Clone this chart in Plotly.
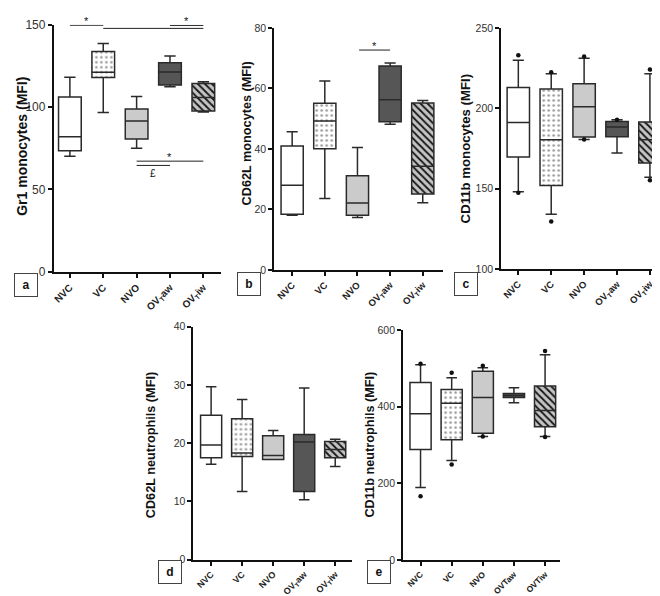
import plotly.graph_objects as go

categories = ["NVC", "VC", "NVO", "OVTaw", "OVTiw"]
labels_sub = ["<b>NVC</b>", "<b>VC</b>", "<b>NVO</b>", "<b>OV<sub>T</sub>aw</b>", "<b>OV<sub>T</sub>iw</b>"]
labels_plain = ["<b>NVC</b>", "<b>VC</b>", "<b>NVO</b>", "<b>OVTaw</b>", "<b>OVTiw</b>"]

# (a) Gr1 monocytes (MFI)
gr1_lo = [70.2, 96.8, 75.1, 112.3, 97.0]
gr1_q1 = [73.5, 118.0, 80.6, 113.4, 97.6]
gr1_med = [82.0, 121.1, 91.5, 121.3, 105.9]
gr1_q3 = [106.1, 133.8, 98.8, 126.9, 114.4]
gr1_hi = [118.2, 138.7, 106.5, 131.0, 115.4]

# (b) CD62L monocytes (MFI)
cd62m_lo = [18.1, 23.6, 17.3, 48.2, 22.2]
cd62m_q1 = [18.4, 40.1, 18.1, 49.0, 25.1]
cd62m_med = [28.0, 49.2, 22.1, 56.3, 34.3]
cd62m_q3 = [41.0, 55.1, 31.1, 67.4, 55.2]
cd62m_hi = [45.7, 62.5, 40.5, 68.4, 56.0]

# (c) CD11b monocytes (MFI)
cd11m_lo = [148.0, 134.0, 180.5, 172.1, 157.0]
cd11m_q1 = [169.7, 152.0, 182.2, 182.3, 165.9]
cd11m_med = [191.2, 180.4, 201.0, 188.4, 180.4]
cd11m_q3 = [212.9, 212.0, 215.3, 191.8, 191.4]
cd11m_hi = [229.9, 221.5, 231.1, 192.8, 221.5]
cd11m_out_x = ["NVC", "NVC", "VC", "VC", "NVO", "NVO", "OVTaw", "OVTiw", "OVTiw"]
cd11m_out_y = [233.1, 147.4, 222.5, 129.5, 232.3, 180.5, 192.8, 224.1, 155.2]

# (d) CD62L neutrophils (MFI)
cd62n_lo = [16.4, 11.7, 17.2, 10.3, 16.0]
cd62n_q1 = [17.5, 17.7, 17.2, 11.7, 17.5]
cd62n_med = [19.7, 18.3, 17.9, 20.2, 18.9]
cd62n_q3 = [24.8, 24.2, 21.3, 21.5, 20.3]
cd62n_hi = [29.7, 27.5, 22.2, 29.5, 20.7]

# (e) CD11b neutrophils (MFI)
cd11n_lo = [189.3, 260.0, 322.6, 410.9, 322.6]
cd11n_q1 = [288.6, 314.0, 331.0, 424.4, 348.0]
cd11n_med = [382.0, 409.0, 424.4, 429.5, 390.5]
cd11n_q3 = [463.5, 445.0, 493.0, 434.6, 454.0]
cd11n_hi = [510.0, 476.0, 501.7, 450.0, 535.7]
cd11n_out_x = ["NVC", "NVC", "VC", "VC", "NVO", "NVO", "OVTiw", "OVTiw"]
cd11n_out_y = [512.0, 167.0, 489.0, 249.6, 507.0, 322.6, 545.8, 321.0]

# significance comparisons: (from index, to index, y level, label)
sig_a = [(0, 1, 149.7, "*"), (1, 4, 147.8, ""), (3, 4, 149.6, "*"),
         (2, 4, 67.2, "*"), (2, 3, 64.6, "")]
sig_a_pound = (2.5, 64.6, "£")
sig_b = [(2.05, 3, 72.7, "*")]

fills = ["#ffffff", "#ffffff", "#cbcbcb", "#565656", "#c4c4c4"]
pat_shape = ["", ".", "", "", "\\"]
pat_fg = ["#000000", "#9a9a9a", "#000000", "#000000", "#151515"]
pat_size = [6, 5, 6, 6, 5]
pat_solid = [0.2, 0.2, 0.2, 0.2, 0.36]

FONT = "Liberation Sans, Arial, sans-serif"

panels = [
    dict(lo=gr1_lo, q1=gr1_q1, med=gr1_med, q3=gr1_q3, hi=gr1_hi, ox=[], oy=[],
         xdom=(44, 212), ydom=(10, 263), xr=[-0.48, 4.54], yr=[0, 150], dtick=50,
         title="Gr1 monocytes (MFI)", tpos=(12, 134), tsize=14, ksize=12, xsize=10,
         labels=labels_sub, tag="a", tagpos=(16, 277)),
    dict(lo=cd62m_lo, q1=cd62m_q1, med=cd62m_med, q3=cd62m_q3, hi=cd62m_hi, ox=[], oy=[],
         xdom=(265, 434), ydom=(13.3, 261), xr=[-0.55, 4.61], yr=[0, 80], dtick=20,
         title="CD62L monocytes (MFI)", tpos=(238, 121), tsize=12.7, ksize=10.5, xsize=9.5,
         labels=labels_sub, tag="b", tagpos=(240, 275)),
    dict(lo=cd11m_lo, q1=cd11m_q1, med=cd11m_med, q3=cd11m_q3, hi=cd11m_hi,
         ox=cd11m_out_x, oy=cd11m_out_y,
         xdom=(492.7, 657.7), ydom=(13.3, 260), xr=[-0.52, 4.48], yr=[100, 250], dtick=50,
         title="CD11b monocytes (MFI)", tpos=(457, 137), tsize=13.2, ksize=10.5, xsize=9.5,
         labels=labels_sub, tag="c", tagpos=(457, 275)),
    dict(lo=cd62n_lo, q1=cd62n_q1, med=cd62n_med, q3=cd62n_q3, hi=cd62n_hi, ox=[], oy=[],
         xdom=(184, 343), ydom=(319.3, 557.7), xr=[-0.57, 4.54], yr=[0, 40], dtick=10,
         title="CD62L neutrophils (MFI)", tpos=(141, 441), tsize=12.7, ksize=10.5, xsize=9,
         labels=labels_sub, tag="d", tagpos=(160, 570)),
    dict(lo=cd11n_lo, q1=cd11n_q1, med=cd11n_med, q3=cd11n_q3, hi=cd11n_hi,
         ox=cd11n_out_x, oy=cd11n_out_y,
         xdom=(394.3, 552), ydom=(322.7, 558.3), xr=[-0.56, 4.49], yr=[0, 600], dtick=200,
         title="CD11b neutrophils (MFI)", tpos=(361, 440), tsize=12.7, ksize=10.5, xsize=8.4,
         labels=labels_plain, tag="e", tagpos=(370, 570)),
]

W, H = 660, 596
fig = go.Figure()
layout = dict(width=W, height=H, margin=dict(l=0, r=0, t=0, b=0),
              paper_bgcolor="white", plot_bgcolor="white", showlegend=False,
              font=dict(family=FONT, color="#111"), annotations=[], shapes=[],
              barmode="overlay")

for i, p in enumerate(panels):
    n = "" if i == 0 else str(i + 1)
    xa, ya = "x" + n, "y" + n
    for k, cat in enumerate(categories):
        pat = dict(shape=pat_shape[k], fgcolor=pat_fg[k], bgcolor=fills[k],
                   size=pat_size[k], solidity=pat_solid[k], fillmode="replace", fgopacity=1)
        fig.add_trace(go.Bar(
            x=[cat], y=[p["q3"][k] - p["q1"][k]], base=[p["q1"][k]],
            width=0.68, xaxis=xa, yaxis=ya, hoverinfo="skip",
            marker=dict(color=fills[k], line=dict(width=0), pattern=pat)))
    fig.add_trace(go.Box(
        x=categories, q1=p["q1"], median=p["med"], q3=p["q3"],
        lowerfence=p["lo"], upperfence=p["hi"], width=0.68, whiskerwidth=0.5,
        fillcolor="rgba(0,0,0,0)", line=dict(color="#2a2a2a", width=1.5),
        boxpoints=False, xaxis=xa, yaxis=ya, hoverinfo="skip"))
    if p["ox"]:
        fig.add_trace(go.Scatter(x=p["ox"], y=p["oy"], mode="markers",
                                 marker=dict(color="#111", size=4.5), cliponaxis=False,
                                 xaxis=xa, yaxis=ya, hoverinfo="skip"))
    x0, x1 = p["xdom"]
    y0, y1 = p["ydom"]
    layout["xaxis" + n] = dict(
        domain=[x0 / W, x1 / W], anchor=ya, type="category",
        categoryorder="array", categoryarray=categories, range=p["xr"],
        tickvals=categories, ticktext=p["labels"], tickangle=-45,
        ticks="outside", ticklen=4, tickwidth=1.5, tickcolor="#111",
        showline=True, linecolor="#111", linewidth=2, showgrid=False, zeroline=False,
        tickfont=dict(size=p["xsize"], color="#222", family=FONT))
    layout["yaxis" + n] = dict(
        domain=[1 - y1 / H, 1 - y0 / H], anchor=xa, range=p["yr"], dtick=p["dtick"],
        ticks="outside", ticklen=4, tickwidth=1.5, tickcolor="#111",
        showline=True, linecolor="#111", linewidth=2, showgrid=False, zeroline=False,
        tickfont=dict(size=p["ksize"], color="#333", family=FONT))
    tx, ty = p["tpos"]
    layout["annotations"].append(dict(
        text="<b>" + p["title"] + "</b>", x=tx / W, y=1 - ty / H, xref="paper", yref="paper",
        xanchor="center", yanchor="middle",
        textangle=-90, showarrow=False, font=dict(size=p["tsize"], color="#111")))
    gx, gy = p["tagpos"]
    layout["annotations"].append(dict(
        text="<b>" + p["tag"] + "</b>", x=gx / W, y=1 - gy / H, xref="paper", yref="paper",
        xanchor="center", yanchor="middle",
        showarrow=False, width=20, height=20, bordercolor="#444", borderwidth=1,
        bgcolor="white", font=dict(size=12, color="#111")))


def add_sig(comps, xa, ya):
    for a, b, yv, lab in comps:
        layout["shapes"].append(dict(type="line", xref=xa, yref=ya, x0=a, x1=b, y0=yv, y1=yv,
                                     line=dict(color="#222", width=1)))
        if lab:
            layout["annotations"].append(dict(
                text=lab, x=(a + b) / 2, y=yv, xref=xa, yref=ya, showarrow=False,
                yanchor="bottom", yshift=-4, font=dict(size=11, color="#111")))


add_sig(sig_a, "x", "y")
add_sig(sig_b, "x2", "y2")
px_, py_, plab = sig_a_pound
layout["annotations"].append(dict(text=plab, x=px_, y=py_, xref="x", yref="y",
                                  showarrow=False, yanchor="top", yshift=-1,
                                  font=dict(size=10, color="#111")))

fig.update_layout(**layout)
fig.write_html("out.html")
